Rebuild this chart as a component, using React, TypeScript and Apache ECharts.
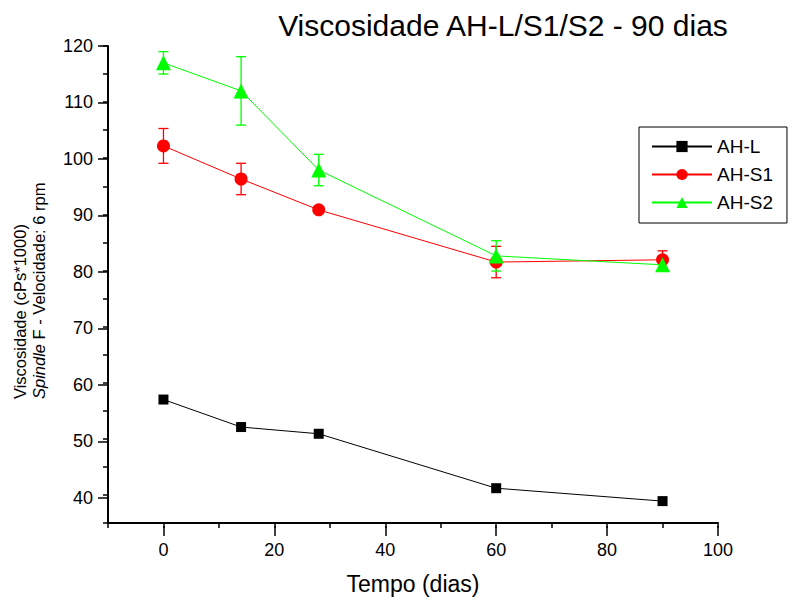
import React, { useEffect, useRef } from "react";
import * as echarts from "echarts";

const days = [0, 14, 28, 60, 90];
const ahL = [57.0, 52.1, 50.9, 41.2, 38.9];
const ahS1 = [102.2, 96.3, 90.8, 81.5, 81.9];
const ahS1Err = [3.1, 2.8, 0.3, 2.8, 1.6];
const ahS2 = [117.0, 112.0, 97.9, 82.6, 81.0];
const ahS2Err = [2.0, 6.1, 2.8, 2.7, 1.0];

const titleText = "Viscosidade AH-L/S1/S2 - 90 dias";
const xName = "Tempo (dias)";

const X_MIN = -10;
const X_MAX = 100;
const Y_MIN = 35;
const Y_MAX = 120;

const pairs = (vals: number[]) => days.map((d, i) => [d, vals[i]]);
const errs = (vals: number[], e: number[]) =>
  days.map((d, i) => [d, vals[i] - e[i], vals[i] + e[i]]);

function errorSeries(name: string, color: string, data: number[][]) {
  return {
    type: "custom",
    name: name + "_err",
    data,
    z: 1,
    silent: true,
    renderItem: (params: any, api: any) => {
      const x = api.value(0);
      const lo = api.coord([x, api.value(1)]);
      const hi = api.coord([x, api.value(2)]);
      const cap = 5;
      const style = { stroke: color, lineWidth: 1.3 };
      return {
        type: "group",
        children: [
          { type: "line", shape: { x1: lo[0], y1: lo[1], x2: hi[0], y2: hi[1] }, style },
          { type: "line", shape: { x1: lo[0] - cap, y1: lo[1], x2: lo[0] + cap, y2: lo[1] }, style },
          { type: "line", shape: { x1: hi[0] - cap, y1: hi[1], x2: hi[0] + cap, y2: hi[1] }, style },
        ],
      };
    },
  };
}

export default function App() {
  const ref = useRef<HTMLDivElement>(null);
  useEffect(() => {
    if (!ref.current) return;
    const chart = echarts.init(ref.current, null, { renderer: "svg" });
    const font = "Liberation Sans, Arial, sans-serif";

    // main plot box
    const L = 108, R = 77, T = 46, B = 74;
    const W = 795, H = 600;
    const plotW = W - L - R;
    const plotH = H - T - B;
    // helper grids so that major ticks (every 20 / every 10) start at 0 / 40
    const gxLeft = L + ((0 - X_MIN) / (X_MAX - X_MIN)) * plotW;
    const gyBottom = B + ((40 - Y_MIN) / (Y_MAX - Y_MIN)) * plotH;

    const tickStyle = { color: "#000", width: 1.5 };
    chart.setOption({
      animation: false,
      backgroundColor: "#ffffff",
      textStyle: { fontFamily: font },
      title: {
        text: titleText,
        left: 498,
        top: 5,
        textAlign: "center",
        textStyle: { fontSize: 30, fontWeight: "normal", color: "#000", fontFamily: font },
      },
      grid: [
        { left: L, right: R, top: T, bottom: B },
        { left: gxLeft, right: R, top: T, bottom: B },
        { left: L, right: R, top: T, bottom: gyBottom },
      ],
      legend: {
        left: 639,
        top: 127,
        orient: "vertical",
        itemWidth: 60,
        itemHeight: 14,
        itemGap: 9,
        padding: [10, 14, 11, 12],
        borderColor: "#000",
        borderWidth: 1,
        backgroundColor: "#fff",
        textStyle: { fontSize: 19, color: "#000", fontFamily: font },
        data: ["AH-L", "AH-S1", "AH-S2"],
      },
      xAxis: [
        {
          gridIndex: 0,
          type: "value",
          min: X_MIN,
          max: X_MAX,
          interval: 10,
          name: xName,
          nameLocation: "middle",
          nameGap: 49,
          nameTextStyle: { fontSize: 23, color: "#000", fontFamily: font },
          axisLine: { onZero: false, lineStyle: { color: "#000", width: 2 } },
          axisTick: { length: 5, lineStyle: tickStyle },
          axisLabel: { show: false },
          splitLine: { show: false },
        },
        {
          gridIndex: 1,
          type: "value",
          min: 0,
          max: X_MAX,
          interval: 20,
          axisLine: { show: false, onZero: false },
          axisTick: { show: true, length: 10, lineStyle: tickStyle },
          axisLabel: { fontSize: 18, color: "#000", margin: 15, fontFamily: font },
          splitLine: { show: false },
        },
        {
          gridIndex: 2,
          type: "value",
          min: X_MIN,
          max: X_MAX,
          show: false,
        },
      ],
      yAxis: [
        {
          gridIndex: 0,
          type: "value",
          min: Y_MIN,
          max: Y_MAX,
          interval: 5,
          axisLine: { show: true, onZero: false, lineStyle: { color: "#000", width: 2 } },
          axisTick: { show: true, length: 5, lineStyle: tickStyle },
          axisLabel: { show: false },
          splitLine: { show: false },
        },
        {
          gridIndex: 1,
          type: "value",
          min: Y_MIN,
          max: Y_MAX,
          show: false,
        },
        {
          gridIndex: 2,
          type: "value",
          min: 40,
          max: Y_MAX,
          interval: 10,
          axisLine: { show: false, onZero: false },
          axisTick: { show: true, length: 10, lineStyle: tickStyle },
          axisLabel: { fontSize: 18, color: "#000", margin: 15, fontFamily: font },
          splitLine: { show: false },
        },
      ],
      graphic: [
        {
          type: "text",
          x: 29,
          y: 399,
          rotation: Math.PI / 2,
          style: {
            text: "{a|Viscosidade (cPs*1000)}\n{b|Spindle}{a| F - Velocidade: 6 rpm}",
            align: "left",
            verticalAlign: "middle",
            lineHeight: 19,
            rich: {
              a: { fontSize: 16.5, fill: "#000", fontFamily: font, lineHeight: 19 },
              b: { fontSize: 16.5, fill: "#000", fontFamily: font, fontStyle: "italic", lineHeight: 19 },
            },
          },
        },
      ],
      series: [
        errorSeries("AH-S1", "#ff0000", errs(ahS1, ahS1Err)),
        errorSeries("AH-S2", "#00ff00", errs(ahS2, ahS2Err)),
        {
          name: "AH-L",
          type: "line",
          data: pairs(ahL),
          symbol: "rect",
          symbolSize: 10,
          color: "#000",
          lineStyle: { color: "#000", width: 1 },
          itemStyle: { color: "#000" },
          z: 3,
        },
        {
          name: "AH-S1",
          type: "line",
          data: pairs(ahS1),
          symbol: "circle",
          symbolSize: 13,
          color: "#ff0000",
          lineStyle: { color: "#ff0000", width: 1 },
          itemStyle: { color: "#ff0000" },
          z: 3,
        },
        {
          name: "AH-S2",
          type: "line",
          data: pairs(ahS2),
          symbol: "triangle",
          symbolSize: 15,
          color: "#00ff00",
          lineStyle: { color: "#00ff00", width: 1 },
          itemStyle: { color: "#00ff00" },
          z: 4,
        },
      ],
    });
    return () => chart.dispose();
  }, []);
  return (
    <div
      ref={ref}
      style={{ position: "fixed", left: 0, top: 0, width: 795, height: 600 }}
    />
  );
}
